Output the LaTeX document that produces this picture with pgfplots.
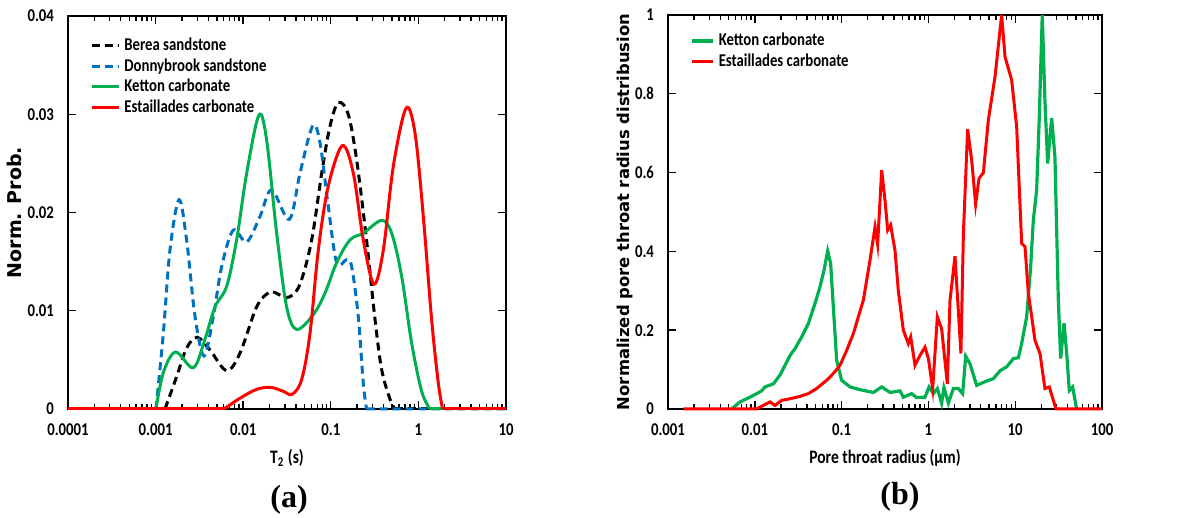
\documentclass[border=0pt]{standalone}
\usepackage{fontspec}
\setmainfont{Carlito}[FakeStretch=0.82]
\newfontfamily\tnr{Liberation Serif}
\newfontfamily\dvs{DejaVu Sans}
\usepackage{pgfplots}
\pgfplotsset{compat=1.18}

\definecolor{dbblue}{RGB}{0,112,192}
\definecolor{kgreen}{RGB}{0,176,80}
\definecolor{ered}{RGB}{255,0,0}

\pgfplotsset{
  myax/.style={
    scale only axis,
    ymin=0,
    scaled y ticks=false,
    axis line style={line width=1pt},
    tick align=inside,
    major tick length=4pt,
    minor tick length=2.5pt,
    tick style={black, line width=0.7pt},
    clip=false,
    tick label style={font=\bfseries\fontsize{9}{10}\selectfont},
    yticklabel style={xshift=-3.5pt},
    xticklabel style={yshift=-4pt},
    xlabel style={font=\bfseries\fontsize{9.5}{11}\selectfont},
    legend style={draw=none, fill=none, font=\bfseries\fontsize{9}{10}\selectfont,
      anchor=north west, row sep=-1.6pt, inner sep=1pt},
    legend cell align=left,
  },
}

\begin{document}
\begin{tikzpicture}
\path[use as bounding box] (0,0) rectangle (602pt,259pt);

% ---------------- (a) T2 distribution
\begin{axis}[
    myax, xmode=log,
    at={(34pt,54.5pt)}, anchor=south west,
    width=219pt, height=196.5pt,
    xmin=1e-4, xmax=10, ymax=0.04,
    xtick={1e-4,1e-3,0.01,0.1,1,10},
    xticklabels={0.0001,0.001,0.01,0.1,1,10},
    minor xtick={2e-4,3e-4,4e-4,5e-4,6e-4,7e-4,8e-4,9e-4,
                 2e-3,3e-3,4e-3,5e-3,6e-3,7e-3,8e-3,9e-3,
                 0.02,0.03,0.04,0.05,0.06,0.07,0.08,0.09,
                 0.2,0.3,0.4,0.5,0.6,0.7,0.8,0.9,
                 2,3,4,5,6,7,8,9},
    ytick={0,0.01,0.02,0.03,0.04},
    yticklabels={0,0.01,0.02,0.03,0.04},
    xlabel={T\textsubscript{2} (s)},
    ylabel={Norm. Prob.},
    xlabel style={at={(axis description cs:0.5,-0.125)}, anchor=center},
    ylabel style={at={(axis description cs:-0.123,0.5)}, anchor=center,
      font=\dvs\bfseries\fontsize{9.5}{11}\selectfont},
    legend style={at={(axis description cs:0.045,0.96)}},
    legend image code/.code={\draw[#1] plot coordinates {(0cm,0cm) (0.48cm,0cm)};},
]
% Berea sandstone
\addplot[black, line width=1.5pt, dash pattern=on 4pt off 2.5pt, smooth, tension=0.55] coordinates {
  (0.00128,0)(0.00174,0.0033)(0.00226,0.0062)(0.00299,0.0073)(0.00418,0.0060)
  (0.00648,0.0039)(0.0092,0.0057)(0.01425,0.0104)(0.0202,0.0119)(0.0263,0.0116)
  (0.0336,0.0114)(0.0445,0.0127)(0.0605,0.0172)(0.0787,0.0240)(0.098,0.0288)
  (0.122,0.0312)(0.158,0.0300)(0.197,0.0254)(0.256,0.0172)(0.32,0.0091)
  (0.381,0.0040)(0.474,0.0010)(0.54,0)
};
\addlegendentry{Berea sandstone}
\addplot[black, line width=1.5pt, dash pattern=on 4pt off 2.5pt, forget plot] coordinates {(0.54,0)(10,0)};
% Donnybrook sandstone
\addplot[dbblue, line width=1.5pt, dash pattern=on 4pt off 2.5pt, smooth, tension=0.55] coordinates {
  (0.00101,0)(0.001225,0.0077)(0.00146,0.0162)(0.00185,0.0213)(0.00226,0.0172)
  (0.00282,0.0094)(0.00357,0.0054)(0.00456,0.0094)(0.00568,0.0145)(0.0077,0.0182)
  (0.01096,0.0170)(0.01556,0.0196)(0.0211,0.0223)(0.0336,0.0193)(0.0445,0.0240)
  (0.062,0.0288)(0.0753,0.0271)(0.0937,0.0206)(0.1167,0.0149)(0.1517,0.0152)
  (0.173,0.0145)(0.206,0.0094)(0.235,0.0026)(0.256,0)
};
\addlegendentry{Donnybrook sandstone}
\addplot[dbblue, line width=1.5pt, dash pattern=on 4pt off 2.5pt, forget plot] coordinates {(0.256,0)(9.6,0)(10,0.0004)};
% Ketton carbonate
\addplot[kgreen, line width=1.5pt, smooth, tension=0.55] coordinates {
  (0.00101,0)(0.001225,0.0037)(0.00169,0.0058)(0.0027,0.0042)(0.00366,0.0071)
  (0.00477,0.0104)(0.00648,0.0125)(0.0084,0.0172)(0.01096,0.0240)(0.0151,0.0299)
  (0.0185,0.0274)(0.0241,0.0179)(0.0313,0.0104)(0.0407,0.0081)(0.0631,0.0096)
  (0.0859,0.0118)(0.1167,0.0149)(0.1655,0.0172)(0.235,0.0179)(0.381,0.0192)
  (0.4955,0.0179)(0.644,0.0135)(0.838,0.0067)(1.089,0.0018)(1.355,0)
};
\addlegendentry{Ketton carbonate}
\addplot[kgreen, line width=1.5pt, forget plot] coordinates {(1.355,0)(10,0)};
% Estaillades carbonate
\addplot[ered, line width=1.5pt, smooth, tension=0.55] coordinates {
  (0.00604,0)(0.0092,0.0011)(0.01425,0.0020)(0.0206,0.0022)(0.0287,0.0018)
  (0.0363,0.0015)(0.0465,0.0030)(0.0579,0.0077)(0.0721,0.0162)(0.0937,0.0227)
  (0.1355,0.0268)(0.1807,0.0240)(0.235,0.0172)(0.311,0.0127)(0.398,0.0162)
  (0.517,0.0247)(0.722,0.0306)(0.914,0.0281)(1.138,0.0196)(1.416,0.0091)
  (1.69,0.0026)(1.89,0)
};
\addlegendentry{Estaillades carbonate}
\addplot[ered, line width=1.5pt, forget plot] coordinates {(1e-4,0)(0.00604,0)};
\addplot[ered, line width=1.5pt, forget plot] coordinates {(1.89,0)(10,0)};
\end{axis}

% ---------------- (b) pore throat radius
\begin{axis}[
    myax, xmode=log,
    at={(334pt,54.5pt)}, anchor=south west,
    width=217pt, height=197pt,
    xmin=1e-3, xmax=100, ymax=1,
    xtick={1e-3,0.01,0.1,1,10,100},
    xticklabels={0.001,0.01,0.1,1,10,100},
    minor xtick={2e-3,3e-3,4e-3,5e-3,6e-3,7e-3,8e-3,9e-3,
                 0.02,0.03,0.04,0.05,0.06,0.07,0.08,0.09,
                 0.2,0.3,0.4,0.5,0.6,0.7,0.8,0.9,
                 2,3,4,5,6,7,8,9,
                 20,30,40,50,60,70,80,90},
    ytick={0,0.2,0.4,0.6,0.8,1},
    yticklabels={0,0.2,0.4,0.6,0.8,1},
    xlabel={Pore throat radius (μm)},
    ylabel={Normalized pore throat radius distribusion},
    xlabel style={at={(axis description cs:0.5,-0.124)}, anchor=center},
    ylabel style={at={(axis description cs:-0.098,0.5)}, anchor=center,
      font=\dvs\bfseries\fontsize{8.2}{10}\selectfont},
    legend style={at={(axis description cs:0.045,0.97)}},
    legend image code/.code={\draw[#1] plot coordinates {(0cm,0cm) (0.38cm,0cm)};},
]
% Ketton carbonate
\addplot[draw=kgreen, line width=1.6pt] coordinates {
  (0.0054,0)(0.00676,0.018)(0.0088,0.030)(0.0105,0.039)(0.012,0.046)(0.0131,0.056)
  (0.0164,0.064)(0.0195,0.086)(0.0223,0.111)(0.0255,0.136)(0.029,0.153)(0.0347,0.183)
  (0.0414,0.217)(0.0494,0.268)(0.0564,0.310)(0.0627,0.352)(0.0691,0.401)(0.0748,0.369)
  (0.0803,0.259)(0.0877,0.124)(0.1,0.073)(0.125,0.056)(0.163,0.049)(0.232,0.042)
  (0.29,0.056)(0.361,0.042)(0.471,0.046)(0.514,0.030)(0.641,0.039)(0.732,0.029)
  (0.914,0.030)(1.017,0.056)(1.14,0.039)(1.268,0.052)(1.42,0.015)(1.51,0.054)
  (1.70,0.015)(1.94,0.052)(2.21,0.052)(2.48,0.039)(2.69,0.134)(3.01,0.115)
  (3.6,0.060)(4.69,0.071)(5.6,0.077)(6.68,0.097)(7.98,0.107)(9.53,0.128)
  (10.87,0.130)(11.87,0.166)(13.55,0.234)(15.07,0.361)(16.17,0.479)(17.66,0.555)
  (18.96,0.742)(20.5,1.0)(22.0,0.784)(23.65,0.623)(26.3,0.738)(28.7,0.640)
  (31.4,0.276)(33.4,0.128)(36.5,0.218)(39.2,0.141)(42.0,0.047)(45.9,0.056)(51.0,0)
};
\addlegendentry{Ketton carbonate}
% Estaillades carbonate
\addplot[draw=ered, line width=1.5pt] coordinates {
  (0.0015,0)(0.0105,0)(0.0125,0.009)(0.015,0.018)(0.0171,0.009)(0.0204,0.022)
  (0.0255,0.026)(0.0332,0.032)(0.0414,0.039)(0.0516,0.052)(0.0673,0.073)(0.0803,0.090)
  (0.096,0.111)(0.1144,0.149)(0.1365,0.191)(0.156,0.234)(0.178,0.276)(0.1945,0.327)
  (0.2125,0.378)(0.2427,0.462)(0.26,0.418)(0.2895,0.606)(0.316,0.530)(0.3396,0.454)
  (0.367,0.467)(0.412,0.403)(0.45,0.301)(0.514,0.200)(0.587,0.166)(0.625,0.183)
  (0.701,0.111)(0.8,0.136)(0.914,0.157)(1.0,0.128)(1.12,0.052)(1.268,0.234)
  (1.42,0.204)(1.652,0.064)(1.774,0.276)(2.025,0.388)(2.37,0.141)(2.53,0.445)
  (2.83,0.710)(3.15,0.632)(3.5,0.520)(3.83,0.585)(4.3,0.600)(4.9,0.733)
  (5.85,0.843)(6.98,1.0)(7.63,0.894)(9.1,0.835)(10.4,0.716)(11.87,0.420)
  (12.97,0.412)(14.17,0.293)(15.5,0.234)(16.9,0.174)(19.3,0.141)(22.0,0.052)
  (24.7,0.056)(29.5,0)(100,0)
};
\addlegendentry{Estaillades carbonate}
\end{axis}

\node[font=\tnr\bfseries\fontsize{16}{18}\selectfont] at (144.5pt,9pt) {(a)};
\node[font=\tnr\bfseries\fontsize{16}{18}\selectfont] at (450pt,10.5pt) {(b)};
\end{tikzpicture}
\end{document}
